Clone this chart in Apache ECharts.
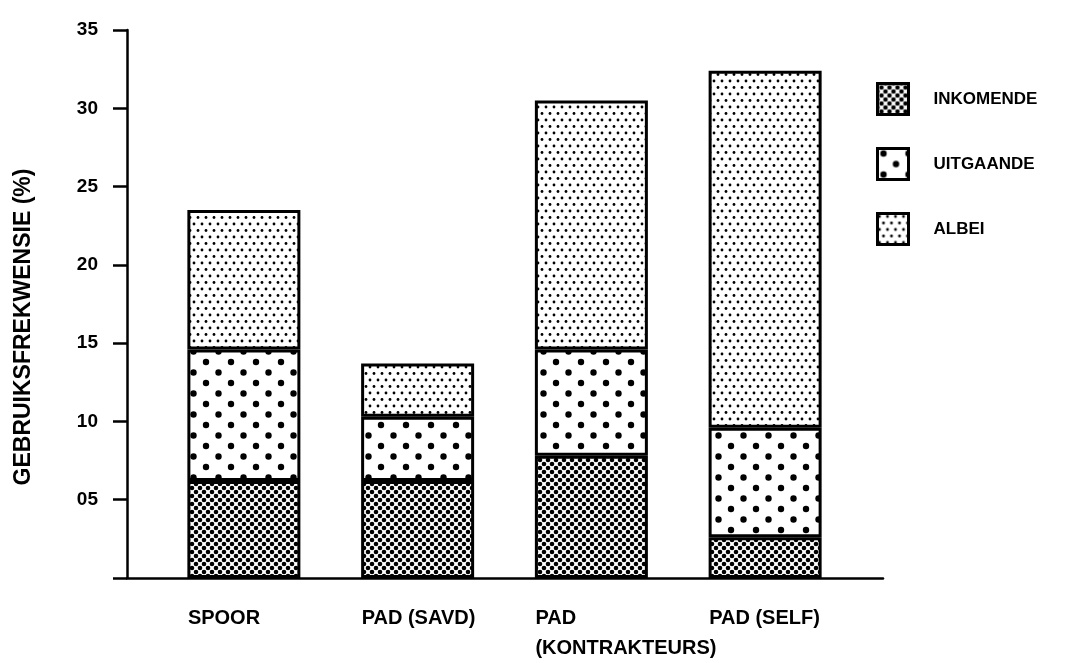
<!DOCTYPE html>
<html>
<head>
<meta charset="utf-8">
<script src="https://cdn.jsdelivr.net/npm/echarts@6/dist/echarts.min.js"></script>
<style>
html,body{margin:0;padding:0;background:#fff;}
#chart{width:1071px;height:663px;}
</style>
</head>
<body>
<div id="chart"></div>
<script>
// ---- data ----
var categories = ['SPOOR', 'PAD (SAVD)', 'PAD\n(KONTRAKTEURS)', 'PAD (SELF)'];
var inkomende = [6.2, 6.2, 7.8, 2.6];
var uitgaande = [8.4, 4.1, 6.8, 7.0];
var albei = [8.9, 3.4, 15.9, 22.8];
var seriesNames = ['INKOMENDE', 'UITGAANDE', 'ALBEI'];
var yAxisTitle = 'GEBRUIKSFREKWENSIE (%)';
var yMin = 0, yMax = 35, yStep = 5;

// ---- patterns ----
function makeTile(w, h, dots, r) {
  var c = document.createElement('canvas');
  c.width = w; c.height = h;
  var g = c.getContext('2d');
  g.fillStyle = '#fff';
  g.fillRect(0, 0, w, h);
  g.fillStyle = '#000';
  dots.forEach(function (d) {
    g.beginPath();
    g.arc(d[0], d[1], r, 0, Math.PI * 2);
    g.fill();
  });
  return c;
}
var patInk = makeTile(8, 8, [[0,0],[8,0],[0,8],[8,8],[4,4]], 2.3);
var patUit = makeTile(25, 21, [[6,5],[18.5,15.5]], 3.2);
var patAlb = makeTile(8, 13, [[2,3],[6,9.5]], 1.4);
var patterns = [patInk, patUit, patAlb];
var values = [inkomende, uitgaande, albei];

var chart = echarts.init(document.getElementById('chart'), null, {renderer: 'canvas'});
var font = 'Liberation Sans, Arial, Helvetica, sans-serif';

var series = seriesNames.map(function (name, i) {
  return {
    name: name,
    type: 'bar',
    stack: 'total',
    xAxisIndex: 1,
    yAxisIndex: 1,
    barWidth: 113,
    data: values[i],
    itemStyle: {
      color: {image: patterns[i], repeat: 'repeat'},
      borderColor: '#000',
      borderWidth: 3
    },
    emphasis: {disabled: true},
    animation: false
  };
});

chart.setOption({
  animation: false,
  backgroundColor: '#fff',
  grid: [
    {left: 127, right: 188, top: 30, bottom: 85},
    {left: 157, right: 219, top: 30, bottom: 85},
    {left: 101, right: 275, top: 30, bottom: 85}
  ],
  xAxis: [
    {gridIndex: 0, type: 'value', min: 0, max: 1,
     axisLine: {show: true, lineStyle: {color: '#000', width: 2.5}},
     axisTick: {show: false}, axisLabel: {show: false}, splitLine: {show: false}},
    {gridIndex: 1, type: 'category', data: categories,
     axisLine: {show: false}, axisTick: {show: false}, axisLabel: {show: false}, splitLine: {show: false}},
    {gridIndex: 2, type: 'category', data: categories,
     axisLine: {show: false}, axisTick: {show: false}, splitLine: {show: false},
     axisLabel: {show: true, align: 'left', margin: 25, color: '#000', fontFamily: font,
                 fontWeight: 'bold', fontSize: 20, lineHeight: 30, interval: 0}}
  ],
  yAxis: [
    {gridIndex: 0, type: 'value', min: yMin, max: yMax, interval: yStep,
     axisLine: {show: true, lineStyle: {color: '#000', width: 2.5}},
     axisTick: {show: true, length: 14, lineStyle: {color: '#000', width: 2.5}},
     splitLine: {show: false},
     axisLabel: {margin: 29, color: '#000', fontFamily: font, fontWeight: 'bold', fontSize: 19,
       formatter: function (v) { return v === 0 ? '' : (v < 10 ? '0' + v : String(v)); }}},
    {gridIndex: 1, type: 'value', min: yMin, max: yMax, interval: yStep, show: false},
    {gridIndex: 2, type: 'value', min: yMin, max: yMax, interval: yStep, show: false}
  ],
  legend: {
    orient: 'vertical',
    left: 871,
    top: 77,
    itemWidth: 31,
    itemHeight: 31,
    itemGap: 31,
    icon: 'rect',
    selectedMode: false,
    data: seriesNames,
    itemStyle: {borderColor: '#000', borderWidth: 3},
    textStyle: {color: '#000', fontFamily: font, fontWeight: 'bold', fontSize: 17, padding: [14, 0, 0, 20]}
  },
  graphic: [{
    type: 'text',
    x: 24, y: 327,
    rotation: Math.PI / 2,
    style: {text: yAxisTitle, fill: '#000', font: 'bold 23px ' + font, textAlign: 'center', textVerticalAlign: 'middle'}
  }],
  series: series
});
</script>
</body>
</html>
